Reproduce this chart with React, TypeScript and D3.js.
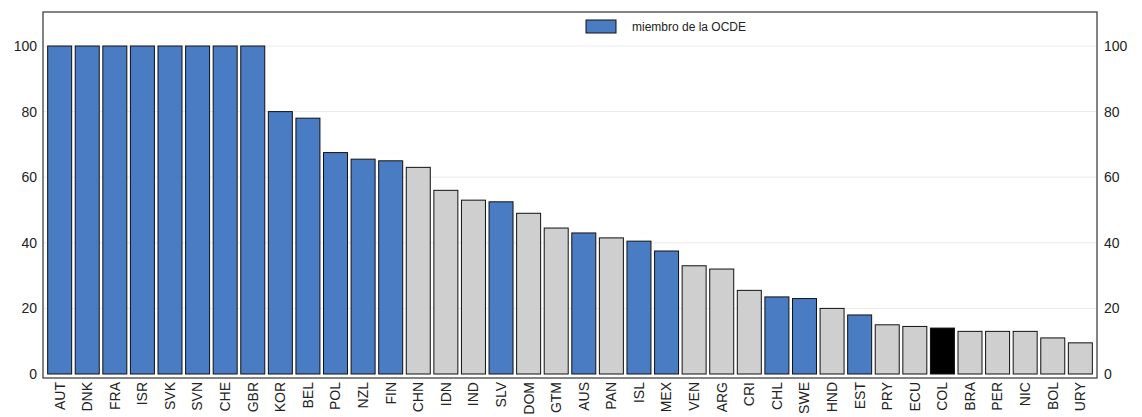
import * as d3 from "d3";

const countries = ["AUT","DNK","FRA","ISR","SVK","SVN","CHE","GBR","KOR","BEL","POL","NZL","FIN","CHN","IDN","IND","SLV","DOM","GTM","AUS","PAN","ISL","MEX","VEN","ARG","CRI","CHL","SWE","HND","EST","PRY","ECU","COL","BRA","PER","NIC","BOL","URY"];
const values = [100,100,100,100,100,100,100,100,80,78,67.5,65.5,65,63,56,53,52.5,49,44.5,43,41.5,40.5,37.5,33,32,25.5,23.5,23,20,18,15,14.5,14,13,13,13,11,9.5];
const groups = ["o","o","o","o","o","o","o","o","o","o","o","o","o","n","n","n","o","n","n","o","n","o","o","n","n","n","o","o","n","o","n","n","c","n","n","n","n","n"];
const yTicks = [0, 20, 40, 60, 80, 100];

const fills: Record<string, string> = { o: "#4a7cc4", n: "#cfcfcf", c: "#000000" };

export default function App() {
  const W = 1142, H = 417;
  const left = 43, right = 1097, top = 12, bottom = 378;
  const x = d3.scaleBand().domain(countries).range([left + 3, right - 3]).paddingInner(0.13).paddingOuter(0.06);
  const y = d3.scaleLinear().domain([0, 100]).range([374, 46]);
  const font = "Liberation Sans, Arial, sans-serif";
  return (
    <svg width={W} height={H} style={{ position: "absolute", left: 0, top: 0, background: "#fff" }}>
      {yTicks.map((t) => (
        <g key={t}>
          {t > 0 && <line x1={left} x2={right} y1={y(t)} y2={y(t)} stroke="#ececec" />}
          <text x={37} y={y(t)} dy="0.35em" textAnchor="end" fontFamily={font} fontSize={14} fill="#222">{t}</text>
          <text x={1104} y={y(t)} dy="0.35em" textAnchor="start" fontFamily={font} fontSize={14} fill="#222">{t}</text>
        </g>
      ))}
      {countries.map((c, i) => (
        <rect key={c} x={x(c)} y={y(values[i])} width={x.bandwidth()} height={y(0) - y(values[i])}
          fill={fills[groups[i]]} stroke="#111" strokeWidth={1} />
      ))}
      <rect x={left} y={top} width={right - left} height={bottom - top} fill="none" stroke="#333" strokeWidth={1.2} />
      {countries.map((c) => (
        <text key={c} transform={`translate(${x(c)! + x.bandwidth() / 2},382) rotate(-90)`} dy="0.35em"
          textAnchor="end" fontFamily={font} fontSize={14} fill="#222">{c}</text>
      ))}
      <rect x={586} y={20} width={30} height={13} fill="#4a7cc4" stroke="#111" />
      <text x={632} y={27} dy="0.35em" fontFamily={font} fontSize={12} fill="#222">miembro de la OCDE</text>
    </svg>
  );
}
